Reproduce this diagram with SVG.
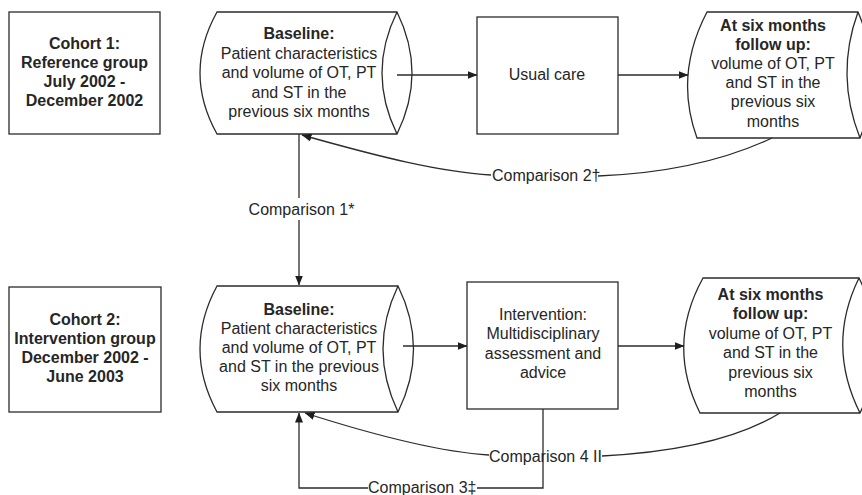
<svg xmlns="http://www.w3.org/2000/svg" width="862" height="495" viewBox="0 0 862 495">
  <style>
    .box { fill: #fff; stroke: #2b2b2b; stroke-width: 1.3; }
    .line { fill: none; stroke: #2b2b2b; stroke-width: 1.3; }
    text { font-family: "Liberation Sans", Arial, sans-serif; font-size: 16px; fill: #262626; }
    .c { text-anchor: middle; }
    .b { font-weight: bold; }
  </style>
  <defs>
    <marker id="arrow" markerUnits="userSpaceOnUse" markerWidth="10" markerHeight="8" refX="9.5" refY="4" orient="auto">
      <path d="M0,0 L10,4 L0,8 Z" fill="#1e1e1e"/>
    </marker>
  </defs>
  <rect width="862" height="495" fill="#fff"/>

  <!-- Cohort 1 -->
  <g id="cohort1">
    <rect class="box" x="9" y="12" width="151" height="122"/>
    <text class="c b" x="84.5" y="49">Cohort 1:</text>
    <text class="c b" x="84.5" y="68">Reference group</text>
    <text class="c b" x="84.5" y="87">July 2002 -</text>
    <text class="c b" x="84.5" y="106">December 2002</text>
  </g>

  <!-- Cohort 1 baseline (stored data shape) -->
  <g id="baseline1">
    <path class="box" d="M217,12 H397 Q427,73 397,134 H217 Q183,73 217,12 Z"/>
    <path class="line" d="M397,12 Q367,73 397,134"/>
    <text class="c b" x="299" y="38.5">Baseline:</text>
    <text class="c" x="299" y="58.5">Patient characteristics</text>
    <text class="c" x="299" y="78">and volume of OT, PT</text>
    <text class="c" x="299" y="97.5">and ST in the</text>
    <text class="c" x="299" y="117">previous six months</text>
  </g>

  <!-- Usual care -->
  <g id="usualcare">
    <rect class="box" x="477" y="17" width="141" height="117"/>
    <text class="c" x="547" y="80">Usual care</text>
  </g>

  <!-- Cohort 1 follow up -->
  <g id="followup1">
    <path class="box" d="M707,12 H858 Q885,75 860,138 H697 Q674,75 707,12 Z"/>
    <path class="line" d="M858,12 Q835,75 860,138"/>
    <text class="c b" x="773" y="30.5">At six months</text>
    <text class="c b" x="773" y="50">follow up:</text>
    <text class="c" x="773" y="69">volume of OT, PT</text>
    <text class="c" x="773" y="88">and ST in the</text>
    <text class="c" x="773" y="107">previous six</text>
    <text class="c" x="773" y="127">months</text>
  </g>

  <!-- Cohort 2 -->
  <g id="cohort2">
    <rect class="box" x="9" y="287" width="152" height="125"/>
    <text class="c b" x="85" y="325">Cohort 2:</text>
    <text class="c b" x="85" y="344">Intervention group</text>
    <text class="c b" x="85" y="363">December 2002 -</text>
    <text class="c b" x="85" y="382">June 2003</text>
  </g>

  <!-- Cohort 2 baseline -->
  <g id="baseline2">
    <path class="box" d="M217,286 H398 Q429,349 398,412 H217 Q183,349 217,286 Z"/>
    <path class="line" d="M398,286 Q368,349 398,412"/>
    <text class="c b" x="299" y="314.5">Baseline:</text>
    <text class="c" x="299" y="334">Patient characteristics</text>
    <text class="c" x="299" y="353">and volume of OT, PT</text>
    <text class="c" x="299" y="372">and ST in the previous</text>
    <text class="c" x="299" y="391">six months</text>
  </g>

  <!-- Intervention -->
  <g id="intervention">
    <rect class="box" x="467" y="282" width="151" height="127"/>
    <text class="c" x="543" y="320">Intervention:</text>
    <text class="c" x="543" y="339">Multidisciplinary</text>
    <text class="c" x="543" y="359">assessment and</text>
    <text class="c" x="543" y="378">advice</text>
  </g>

  <!-- Cohort 2 follow up -->
  <g id="followup2">
    <path class="box" d="M703,278 H859 Q892,345 860,413 H700 Q666,345 703,278 Z"/>
    <path class="line" d="M859,278 Q826,345 860,413"/>
    <text class="c b" x="770.5" y="300">At six months</text>
    <text class="c b" x="770.5" y="319">follow up:</text>
    <text class="c" x="770.5" y="339">volume of OT, PT</text>
    <text class="c" x="770.5" y="358">and ST in the</text>
    <text class="c" x="770.5" y="378">previous six</text>
    <text class="c" x="770.5" y="397">months</text>
  </g>

  <!-- Connectors -->
  <g id="connectors">
    <path class="line" d="M397,75 H477" marker-end="url(#arrow)"/>
    <path class="line" d="M618,75 H688" marker-end="url(#arrow)"/>
    <path class="line" d="M403,346 H467" marker-end="url(#arrow)"/>
    <path class="line" d="M618,346 H684" marker-end="url(#arrow)"/>

    <!-- Comparison 1 -->
    <path class="line" d="M299,134 V198"/>
    <path class="line" d="M299,220 V285" marker-end="url(#arrow)"/>
    <text class="c" x="301.5" y="215">Comparison 1*</text>

    <!-- Comparison 2 -->
    <path class="line" d="M772,138 Q700,172 598,176"/>
    <path class="line" d="M491,175 C440,172 380,157 302,135" marker-end="url(#arrow)"/>
    <text x="492" y="181">Comparison 2†</text>

    <!-- Comparison 3 -->
    <path class="line" d="M543,409 V488 H477"/>
    <path class="line" d="M368,488 H299 V413" marker-end="url(#arrow)"/>
    <text x="368" y="493">Comparison 3‡</text>

    <!-- Comparison 4 -->
    <path class="line" d="M780,413 Q720,450 602,456"/>
    <path class="line" d="M489,455 C440,452 380,437 305,413" marker-end="url(#arrow)"/>
    <text x="489" y="462">Comparison 4 II</text>
  </g>
</svg>
